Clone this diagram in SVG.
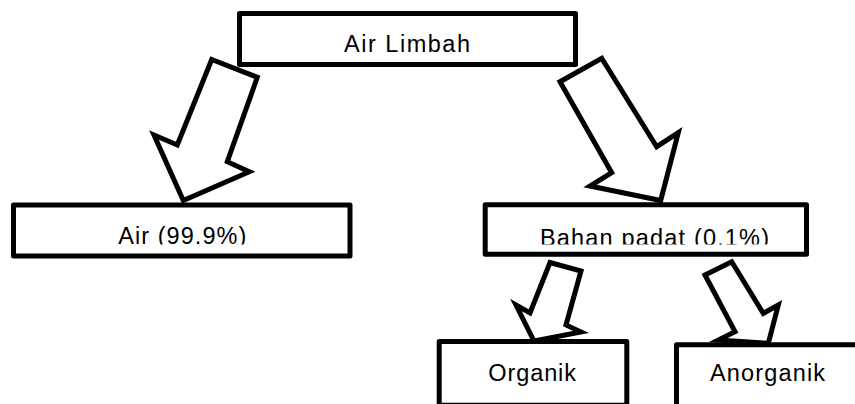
<svg xmlns="http://www.w3.org/2000/svg" width="855" height="404" viewBox="0 0 855 404">
<style>
.box{fill:#fff;stroke:#000;stroke-width:5;stroke-linejoin:round}
.arr{fill:#fff;stroke:#000;stroke-width:5;stroke-linejoin:miter;stroke-miterlimit:10}
.lbl{font-family:"Liberation Sans",Arial,sans-serif;font-size:23.5px;fill:#000}
</style>
<defs>
<clipPath id="clipMid"><rect x="0" y="0" width="855" height="244.4"/></clipPath>
</defs>
<rect width="855" height="404" fill="#fff"/>
<g id="node-air-limbah">
<rect class="box" x="239.5" y="13.5" width="336" height="51"/>
<text class="lbl" x="344" y="52.3" textLength="126">Air Limbah</text>
</g>
<g id="node-air">
<rect class="box" x="13.5" y="205" width="336.5" height="51"/>
<text class="lbl" x="118.3" y="243.6" textLength="128" clip-path="url(#clipMid)">Air (99.9%)</text>
</g>
<g id="node-bahan-padat">
<rect class="box" x="485.2" y="204.8" width="321.3" height="49.5"/>
<text class="lbl" x="540" y="245.6" textLength="229" clip-path="url(#clipMid)">Bahan padat (0.1%)</text>
</g>
<g id="node-organik">
<rect class="box" x="439.2" y="341.5" width="187.6" height="63.7"/>
<text class="lbl" x="488.3" y="381" textLength="87.7">Organik</text>
</g>
<g id="node-anorganik">
<rect class="box" x="676.5" y="344.8" width="230" height="80"/>
<text class="lbl" x="710" y="381" textLength="115">Anorganik</text>
</g>
<g id="connectors">
<polygon class="arr" points="211.7,59.5 257.3,77.3 227.3,161.7 249.3,171.7 183.3,200.5 154,135 177.3,145"/>
<polygon class="arr" points="560,81.7 601.7,58.3 656.7,146.7 678.3,132.7 660.7,200.5 590,186 611.7,172.7"/>
<polygon class="arr" points="550,262.5 581,271 566,325 581,332 534,341 516,305 530,313"/>
<polygon class="arr" points="705,275 731.7,261.7 763.3,313.3 778.3,305 768.3,343.3 718.3,340 735,331.7"/>
</g>
</svg>
